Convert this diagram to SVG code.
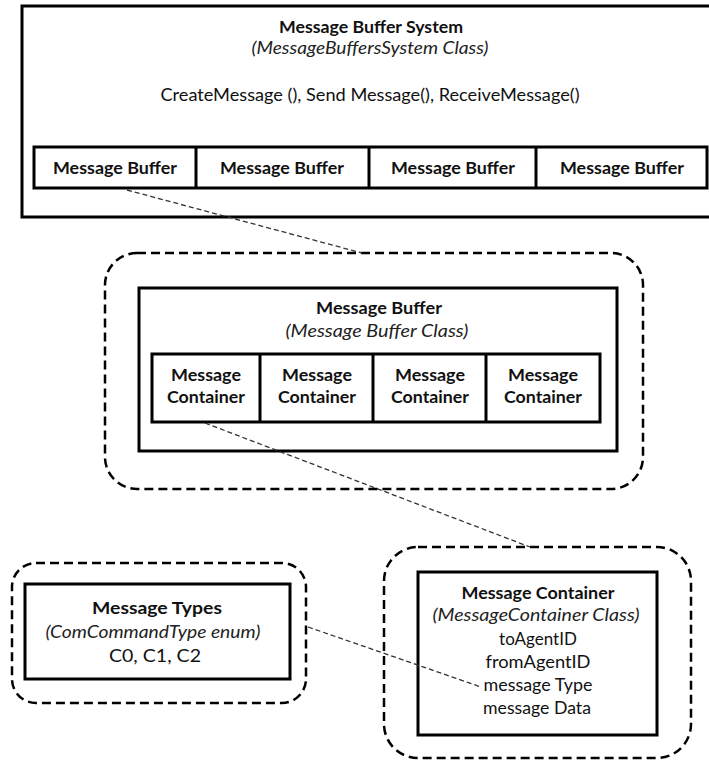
<svg xmlns="http://www.w3.org/2000/svg" width="709" height="761" viewBox="0 0 709 761">
<style>
text{font-family:Lato,"Liberation Sans",sans-serif;font-size:17px;fill:#111;text-anchor:middle}
.b{font-weight:bold}
.i{font-style:italic;fill:#222}
.solid{fill:#fff;stroke:#000;stroke-width:3}
.cell{fill:none;stroke:#000;stroke-width:3}
.dash{fill:none;stroke:#000;stroke-width:2.5;stroke-dasharray:9 5}
.conn{fill:none;stroke:#333;stroke-width:1.3;stroke-dasharray:5 3}
</style>
<rect width="709" height="761" fill="#fff"/>
<g id="message-buffer-system">
<rect class="solid" x="22" y="6" width="700" height="211"/>
<text class="b" x="371" y="33" textLength="184" lengthAdjust="spacingAndGlyphs">Message Buffer System</text>
<text class="i" x="370" y="54" textLength="237" lengthAdjust="spacingAndGlyphs">(MessageBuffersSystem Class)</text>
<text x="370" y="101" textLength="419" lengthAdjust="spacingAndGlyphs">CreateMessage (), Send Message(), ReceiveMessage()</text>
</g>
<g id="buffer-row">
<rect class="solid" x="34" y="147" width="673" height="41"/>
<line class="cell" x1="196" y1="147" x2="196" y2="188"/>
<line class="cell" x1="369" y1="147" x2="369" y2="188"/>
<line class="cell" x1="536" y1="147" x2="536" y2="188"/>
<text class="b" x="115" y="174" textLength="124" lengthAdjust="spacingAndGlyphs">Message Buffer</text>
<text class="b" x="282" y="174" textLength="124" lengthAdjust="spacingAndGlyphs">Message Buffer</text>
<text class="b" x="453" y="174" textLength="124" lengthAdjust="spacingAndGlyphs">Message Buffer</text>
<text class="b" x="622" y="174" textLength="124" lengthAdjust="spacingAndGlyphs">Message Buffer</text>
</g>
<g id="message-buffer">
<rect class="dash" x="105" y="253" width="538" height="236" rx="32"/>
<rect class="solid" x="139" y="288" width="478" height="163"/>
<text class="b" x="379" y="314" textLength="126" lengthAdjust="spacingAndGlyphs">Message Buffer</text>
<text class="i" x="377" y="337" textLength="183" lengthAdjust="spacingAndGlyphs">(Message Buffer  Class)</text>
</g>
<g id="container-row">
<rect class="solid" x="152" y="354" width="448" height="68"/>
<line class="cell" x1="260" y1="354" x2="260" y2="422"/>
<line class="cell" x1="373" y1="354" x2="373" y2="422"/>
<line class="cell" x1="486" y1="354" x2="486" y2="422"/>
<text class="b" x="206" y="381" textLength="70" lengthAdjust="spacingAndGlyphs">Message</text>
<text class="b" x="206" y="403" textLength="78" lengthAdjust="spacingAndGlyphs">Container</text>
<text class="b" x="317" y="381" textLength="70" lengthAdjust="spacingAndGlyphs">Message</text>
<text class="b" x="317" y="403" textLength="78" lengthAdjust="spacingAndGlyphs">Container</text>
<text class="b" x="430" y="381" textLength="70" lengthAdjust="spacingAndGlyphs">Message</text>
<text class="b" x="430" y="403" textLength="78" lengthAdjust="spacingAndGlyphs">Container</text>
<text class="b" x="543" y="381" textLength="70" lengthAdjust="spacingAndGlyphs">Message</text>
<text class="b" x="543" y="403" textLength="78" lengthAdjust="spacingAndGlyphs">Container</text>
</g>
<g id="message-types">
<rect class="dash" x="12" y="563" width="294" height="140" rx="24"/>
<rect class="solid" x="25" y="584" width="265" height="95"/>
<text class="b" x="157" y="614" textLength="130" lengthAdjust="spacingAndGlyphs">Message Types</text>
<text class="i" x="153" y="638" textLength="215" lengthAdjust="spacingAndGlyphs">(ComCommandType enum)</text>
<text x="155" y="662" textLength="92" lengthAdjust="spacingAndGlyphs">C0, C1, C2</text>
</g>
<g id="message-container">
<rect class="dash" x="384" y="547" width="307" height="211" rx="34"/>
<rect class="solid" x="418" y="572" width="239" height="163"/>
<text class="b" x="538" y="599" textLength="153" lengthAdjust="spacingAndGlyphs">Message Container</text>
<text class="i" x="536" y="621" textLength="207" lengthAdjust="spacingAndGlyphs">(MessageContainer Class)</text>
<text x="538" y="645">toAgentID</text>
<text x="538" y="668" textLength="105" lengthAdjust="spacingAndGlyphs">fromAgentID</text>
<text x="538" y="691" textLength="109" lengthAdjust="spacingAndGlyphs">message Type</text>
<text x="537" y="714" textLength="108" lengthAdjust="spacingAndGlyphs">message Data</text>
</g>
<g id="connectors">
<line class="conn" x1="127" y1="190" x2="362" y2="253"/>
<line class="conn" x1="205" y1="423" x2="530" y2="547"/>
<line class="conn" x1="308" y1="627" x2="481" y2="687"/>
</g>
</svg>
